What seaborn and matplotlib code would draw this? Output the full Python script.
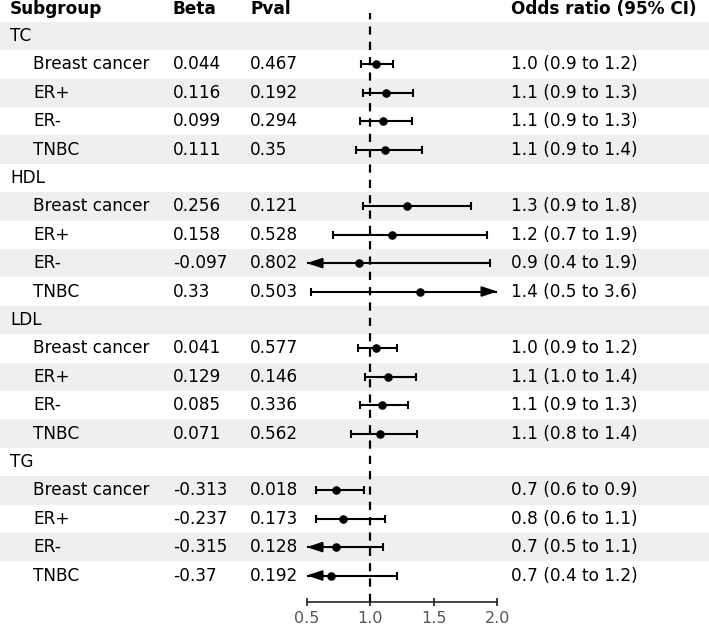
import numpy as np
import pandas as pd
import matplotlib
matplotlib.use("Agg")
import matplotlib.pyplot as plt
from matplotlib import transforms
import seaborn as sns

groups = ["TC", "HDL", "LDL", "TG"]
subgroups = ["Breast cancer", "ER+", "ER-", "TNBC"]
beta = ["0.044", "0.116", "0.099", "0.111",
        "0.256", "0.158", "-0.097", "0.33",
        "0.041", "0.129", "0.085", "0.071",
        "-0.313", "-0.237", "-0.315", "-0.37"]
pval = ["0.467", "0.192", "0.294", "0.35",
        "0.121", "0.528", "0.802", "0.503",
        "0.577", "0.146", "0.336", "0.562",
        "0.018", "0.173", "0.128", "0.192"]
or_est = [1.045, 1.123, 1.104, 1.117,
          1.292, 1.171, 0.908, 1.391,
          1.042, 1.138, 1.089, 1.074,
          0.731, 0.789, 0.730, 0.691]
or_lo = [0.93, 0.94, 0.92, 0.89,
         0.94, 0.71, 0.40, 0.53,
         0.90, 0.96, 0.92, 0.85,
         0.57, 0.57, 0.48, 0.40]
or_hi = [1.18, 1.34, 1.33, 1.41,
         1.79, 1.92, 1.94, 3.60,
         1.21, 1.36, 1.30, 1.37,
         0.95, 1.12, 1.10, 1.21]
or_text = ["1.0 (0.9 to 1.2)", "1.1 (0.9 to 1.3)", "1.1 (0.9 to 1.3)", "1.1 (0.9 to 1.4)",
           "1.3 (0.9 to 1.8)", "1.2 (0.7 to 1.9)", "0.9 (0.4 to 1.9)", "1.4 (0.5 to 3.6)",
           "1.0 (0.9 to 1.2)", "1.1 (1.0 to 1.4)", "1.1 (0.9 to 1.3)", "1.1 (0.8 to 1.4)",
           "0.7 (0.6 to 0.9)", "0.8 (0.6 to 1.1)", "0.7 (0.5 to 1.1)", "0.7 (0.4 to 1.2)"]
xticks = [0.5, 1.0, 1.5, 2.0]
xmin, xmax = 0.5, 2.0

sns.set_style("white")
plt.rcParams['font.family'] = ['DejaVu Sans']
plt.rcParams['text.color'] = 'black'

W, H = 709, 625
fig = plt.figure(figsize=(W / 100, H / 100), dpi=100)

# build row table: group header rows + subgroup rows
rows = []
k = 0
for g in groups:
    rows.append(dict(label=g, group=True, idx=-1))
    for s in subgroups:
        rows.append(dict(label=s, group=False, idx=k))
        k += 1
for i, r in enumerate(rows):
    r["y"] = i
df = pd.DataFrame(rows)

nrow = len(rows)
ytop = -0.8
ybot = nrow - 0.5
top_px, bot_px = 13.2, 589.7
pos = [306.7 / W, 1 - bot_px / H, (497.3 - 306.7) / W, (bot_px - top_px) / H]

# background stripes
ax_bg = fig.add_axes([0, pos[1], 1, pos[3]], zorder=0)
ax_bg.set_xlim(0, 1)
ax_bg.set_ylim(ybot, ytop)
ax_bg.axis("off")
for i in range(0, nrow, 2):
    ax_bg.axhspan(i - 0.5, i + 0.5, color="#efefef", lw=0)

ax = fig.add_axes(pos, zorder=1)
ax.patch.set_alpha(0)
ax.set_xlim(xmin, xmax)
ax.set_ylim(ybot, ytop)

pts = df[~df.group].copy()
pts["est"] = [or_est[int(i)] for i in pts.idx]
pts["lo"] = [or_lo[int(i)] for i in pts.idx]
pts["hi"] = [or_hi[int(i)] for i in pts.idx]

ax.axvline(1.0, ymin=-(602.3 - bot_px) / (bot_px - top_px), ymax=1, color="black",
           lw=1.6, ls=(0, (3.7, 3.2)), clip_on=False, zorder=1)

lw = 1.5
for _, r in pts.iterrows():
    lo_d = max(r.lo, xmin)
    hi_d = min(r.hi, xmax)
    ax.hlines(r.y, lo_d, hi_d, color="black", lw=lw, zorder=2)
    if r.lo >= xmin:
        ax.plot([r.lo], [r.y], marker="|", ms=5.5, mew=lw, color="black", zorder=2)
    else:
        ax.annotate("", xy=(xmin, r.y), xytext=(xmin + 0.12, r.y),
                    arrowprops=dict(arrowstyle="-|>,head_length=0.9,head_width=0.3",
                                    color="black", lw=lw, shrinkA=0, shrinkB=0,
                                    mutation_scale=10), zorder=3)
    if r.hi <= xmax:
        ax.plot([r.hi], [r.y], marker="|", ms=5.5, mew=lw, color="black", zorder=2)
    else:
        ax.annotate("", xy=(xmax, r.y), xytext=(xmax - 0.12, r.y),
                    arrowprops=dict(arrowstyle="-|>,head_length=0.9,head_width=0.3",
                                    color="black", lw=lw, shrinkA=0, shrinkB=0,
                                    mutation_scale=10), zorder=3)

sns.scatterplot(data=pts, x="est", y="y", ax=ax, color="black", s=38,
                edgecolor="black", linewidth=0, zorder=4, legend=False)

ax.set_xlabel("")
ax.set_ylabel("")
ax.set_yticks([])
ax.set_xticks(xticks)
ax.set_xticklabels([f"{t:.1f}" for t in xticks])
for s in ["top", "right", "left"]:
    ax.spines[s].set_visible(False)
ax.spines["bottom"].set_position(("outward", (602.3 - bot_px) * 0.72))
ax.spines["bottom"].set_linewidth(1.2)
ax.spines["bottom"].set_color("#222222")
ax.tick_params(axis="x", direction="inout", length=6, width=1.2, color="#222222",
               labelsize=11.5, labelcolor="#555555", pad=3, bottom=True)

# text columns
tr = transforms.blended_transform_factory(fig.transFigure, ax.transData)
fs = 12.2
hy = -0.95
ax.text(10 / W, hy, "Subgroup", transform=tr, fontsize=fs, fontweight="bold", va="center")
ax.text(173 / W, hy, "Beta", transform=tr, fontsize=fs, fontweight="bold", va="center")
ax.text(250 / W, hy, "Pval", transform=tr, fontsize=fs, fontweight="bold", va="center")
ax.text(511 / W, hy, "Odds ratio (95% CI)", transform=tr, fontsize=fs, fontweight="bold", va="center")

for _, r in df.iterrows():
    if r.group:
        ax.text(10 / W, r.y, r.label, transform=tr, fontsize=fs, va="center")
    else:
        i = int(r.idx)
        ax.text(33 / W, r.y, r.label, transform=tr, fontsize=fs, va="center")
        ax.text(173 / W, r.y, beta[i], transform=tr, fontsize=fs, va="center")
        ax.text(250 / W, r.y, pval[i], transform=tr, fontsize=fs, va="center")
        ax.text(511 / W, r.y, or_text[i], transform=tr, fontsize=fs, va="center")

fig.savefig("out.png", dpi=100)
